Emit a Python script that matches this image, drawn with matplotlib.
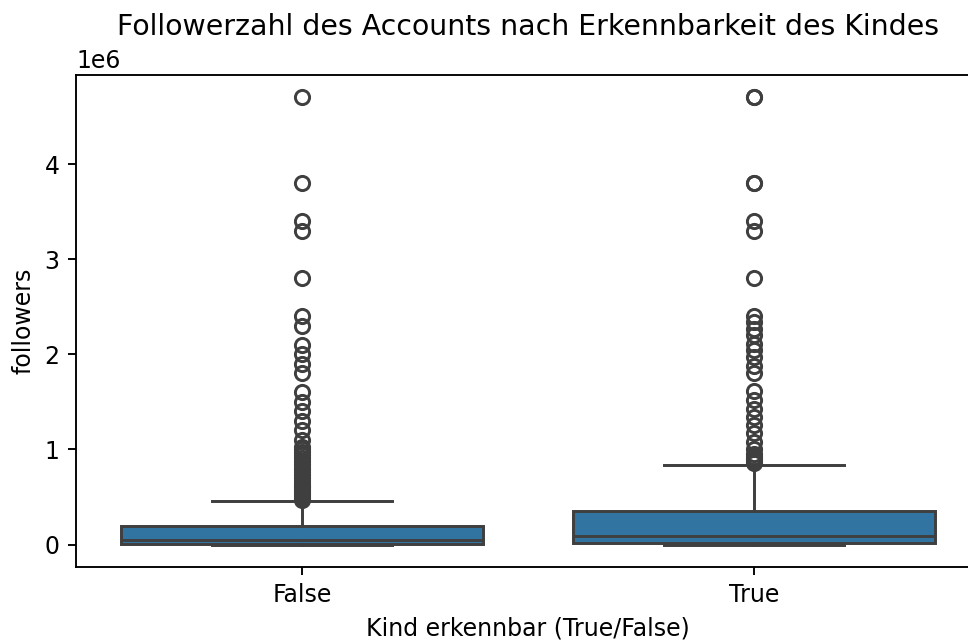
import matplotlib
matplotlib.use('Agg')
import matplotlib.pyplot as plt

# Box stats (followers, absolute numbers)
categories = ["False", "True"]
q1 = [3000, 15000]
median = [50000, 85000]
q3 = [190000, 350000]
whis_low = [0, 0]
whis_high = [460000, 840000]

# outliers per category
fliers_false = [4700000, 3800000, 3400000, 3300000, 2800000, 2400000, 2300000,
                2100000, 2000000, 1900000, 1800000, 1600000, 1500000, 1400000,
                1300000, 1200000, 1100000, 1030000, 1000000, 970000, 940000,
                910000, 880000, 850000, 820000, 790000, 760000, 730000, 700000,
                670000, 640000, 620000, 600000, 580000, 560000, 540000, 520000,
                500000, 480000, 470000]
fliers_true = [4700000, 4700000, 3800000, 3800000, 3400000, 3300000, 2800000,
               2400000, 2340000, 2270000, 2200000, 2110000, 2040000, 1970000,
               1880000, 1800000, 1610000, 1520000, 1430000, 1340000, 1260000,
               1170000, 1080000, 1000000, 950000, 920000, 900000, 880000, 860000]

box_color = "#3274a1"
line_color = "#3f3f3f"

stats = []
for i, name in enumerate(categories):
    stats.append({
        "label": name,
        "q1": q1[i],
        "med": median[i],
        "q3": q3[i],
        "whislo": whis_low[i],
        "whishi": whis_high[i],
        "fliers": fliers_false if i == 0 else fliers_true,
    })

DPI = 170
fig, ax = plt.subplots(figsize=(968 / DPI, 642 / DPI), dpi=DPI)

lw = 1.25
ax.bxp(
    stats,
    positions=[0, 1],
    widths=0.8,
    patch_artist=True,
    boxprops=dict(facecolor=box_color, edgecolor=line_color, linewidth=lw),
    medianprops=dict(color=line_color, linewidth=lw),
    whiskerprops=dict(color=line_color, linewidth=lw),
    capprops=dict(color=line_color, linewidth=lw),
    flierprops=dict(marker="o", markersize=6, markerfacecolor="none",
                    markeredgecolor=line_color, markeredgewidth=lw),
    capwidths=0.4,
)

ax.set_xlim(-0.5, 1.5)
ax.set_title("Followerzahl des Accounts nach Erkennbarkeit des Kindes")
ax.set_xlabel("Kind erkennbar (True/False)")
ax.set_ylabel("followers")

# the reference is cut off on the right, so the axes runs past the edge
fig.subplots_adjust(left=0.0785, right=1.0124, top=0.883, bottom=0.117)
fig.savefig("out.png", dpi=DPI)
